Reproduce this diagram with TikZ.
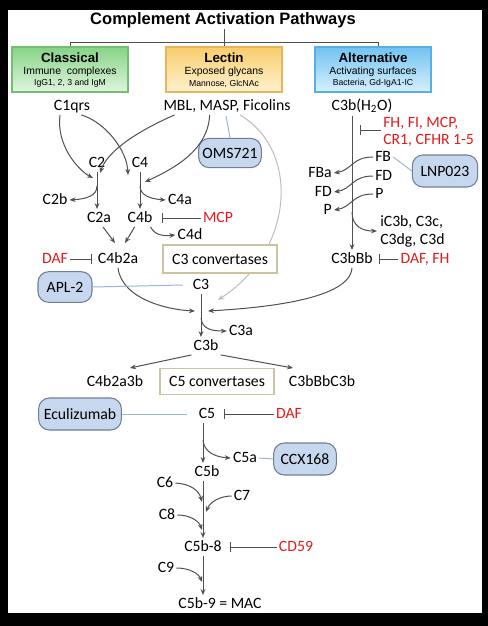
\documentclass[tikz,border=0pt]{standalone}
\usepackage{fontspec}
\setmainfont{Carlito}
\newfontfamily\arialf{Liberation Sans}
\usetikzlibrary{arrows.meta}
\definecolor{linec}{HTML}{505050}
\definecolor{linkc}{HTML}{9BB5D6}
\definecolor{grayc}{HTML}{BDBDBD}
\definecolor{redc}{HTML}{E31A1C}
\definecolor{drugfill}{HTML}{C7D7EE}
\definecolor{drugborder}{HTML}{6F7F96}
\definecolor{convborder}{HTML}{C8C4A2}
\definecolor{clTop}{HTML}{86D386}
\definecolor{clBot}{HTML}{E0F5E0}
\definecolor{clBorder}{HTML}{72BF72}
\definecolor{leTop}{HTML}{F8CD6C}
\definecolor{leBot}{HTML}{FFF2D0}
\definecolor{leBorder}{HTML}{E9B55A}
\definecolor{alTop}{HTML}{72C3F2}
\definecolor{alBot}{HTML}{D8F0FD}
\definecolor{alBorder}{HTML}{5AAEE0}
\tikzset{
  lbl/.style={font=\fontsize{11.8}{14}\selectfont, inner sep=1.5pt, text height=8pt, text depth=2pt},
  redlbl/.style={lbl, text=redc},
  drug/.style={draw=drugborder, fill=drugfill, rounded corners=8pt, line width=0.8pt, inner sep=0pt,
    font=\fontsize{11.8}{14}\selectfont},
  conv/.style={draw=convborder, fill=white, line width=0.9pt, inner sep=0pt, font=\fontsize{11.8}{14}\selectfont},
  hbox/.style={line width=0.8pt, minimum width=87pt, minimum height=33.75pt, inner sep=0pt},
  htitle/.style={font=\arialf\bfseries\fontsize{10}{12}\selectfont, inner sep=0pt},
  hsub/.style={font=\arialf\fontsize{7.8}{9}\selectfont, inner sep=0pt},
  hsmall/.style={font=\arialf\fontsize{6.5}{8}\selectfont, inner sep=0pt},
  arr/.style={draw=linec, line width=0.75pt, -{Stealth[length=4.5pt,width=3.6pt]}},
  inh/.style={draw=linec, line width=0.75pt, -{Bar[width=7.5pt]}},
  link/.style={draw=linkc, line width=0.75pt},
  tree/.style={draw=linec, line width=0.75pt},
  grayarr/.style={draw=grayc, line width=0.75pt, -{Stealth[length=4.5pt,width=3.6pt]}}
}
\begin{document}
\begin{tikzpicture}[x=0.75pt,y=-0.75pt]
\useasboundingbox (0,0) rectangle (488,626);
\fill[black] (0,0) rectangle (488,626);
\fill[white] (8,10) rectangle (482,613);

% title and header boxes
\node[font=\arialf\bfseries\fontsize{12.4}{14}\selectfont, inner sep=1pt] (title) at (223,20) {Complement Activation Pathways};
\node[hbox, draw=clBorder, top color=clTop, bottom color=clBot] (clbox) at (70,69.5) {};
\node[hbox, draw=leBorder, top color=leTop, bottom color=leBot] (lebox) at (224,69.5) {};
\node[hbox, draw=alBorder, top color=alTop, bottom color=alBot] (albox) at (373,69.5) {};
\coordinate (tl) at (70,42);
\coordinate (tm) at (224,42);
\coordinate (tr) at (378,42);
\draw[tree] (clbox.north) -- (tl) -- (tr) -- (tr |- albox.north);
\draw[tree] (tm |- title.south) -- (lebox.north);

\node[htitle] (clt) at (70,58) {Classical};
\node[hsub] (cls) at (70,72) {Immune\ \ complexes};
\node[hsmall] (clm) at (70,83.5) {IgG1, 2, 3 and IgM};
\node[htitle] (let) at (224,58) {Lectin};
\node[hsub] (les) at (224,72) {Exposed glycans};
\node[hsmall] (lem) at (224,83.5) {Mannose,\ GlcNAc};
\node[htitle] (alt) at (373,58) {Alternative};
\node[hsub] (als) at (373,72) {Activating surfaces};
\node[hsmall] (alm) at (373,83.5) {Bacteria, Gd-IgA1-IC};

% initiators
\node[lbl] (c1qrs) at (72,106) {C1qrs};
\node[lbl] (mbl) at (227,106) {MBL, MASP, Ficolins};
\node[lbl] (c3bh2o) at (362,106) {C3b(H\textsubscript{2}O)};

% gray curve from Ficolins to C3 (behind C3 convertases box)
\coordinate (ficA) at (240,115);
\coordinate (c3inG) at (218,300);
\draw[grayarr] (ficA) .. controls (300,150) and (295,250) .. (c3inG);

% classical / lectin nodes
\node[drug, minimum width=47pt, minimum height=22pt] (oms) at (230,153) {OMS721};
\node[lbl] (c2) at (97,163) {C2};
\node[lbl] (c4) at (140,163) {C4};
\node[lbl] (c2b) at (55,200) {C2b};
\node[lbl] (c4a) at (180,200) {C4a};
\node[lbl] (c2a) at (99,218) {C2a};
\node[lbl] (c4b) at (140,218) {C4b};
\node[redlbl] (mcp) at (218,218) {MCP};
\node[lbl] (c4d) at (190,235) {C4d};
\node[lbl] (c4b2a) at (118,259) {C4b2a};
\node[redlbl] (daf1) at (55,259) {DAF};
\node[conv, minimum width=85.5pt, minimum height=21pt] (c3conv) at (220,259) {C3 convertases};
\node[drug, minimum width=40.5pt, minimum height=23pt] (apl) at (65,287) {APL-2};
\node[lbl] (c3) at (201,285) {C3};
\node[lbl] (c3a) at (241,331) {C3a};
\node[lbl] (c3b) at (206,346) {C3b};
\node[lbl] (c4b2a3b) at (115,382) {C4b2a3b};
\node[conv, minimum width=85.5pt, minimum height=20pt] (c5conv) at (217,381.5) {C5 convertases};
\node[lbl] (c3bbbc3b) at (322,382) {C3bBbC3b};
\node[drug, minimum width=62pt, minimum height=24pt] (ecu) at (80,414) {Eculizumab};
\node[lbl] (c5) at (207,414) {C5};
\node[redlbl] (daf2) at (289,414) {DAF};
\node[lbl] (c5a) at (245,458) {C5a};
\node[drug, minimum width=47pt, minimum height=24pt] (ccx) at (305,459) {CCX168};
\node[lbl] (c5b) at (207,472) {C5b};
\node[lbl] (c6) at (165,483) {C6};
\node[lbl] (c7) at (242,496) {C7};
\node[lbl] (c8) at (167,515) {C8};
\node[lbl] (c5b8) at (203,547) {C5b-8};
\node[redlbl] (cd59) at (296,547) {CD59};
\node[lbl] (c9) at (166,568) {C9};
\node[lbl] (mac) at (220,604) {C5b-9 = MAC};

% alternative nodes
\node[redlbl, anchor=west] (fh1) at (381,123) {FH, FI, MCP,};
\node[redlbl, anchor=west] (fh2) at (381,140) {CR1, CFHR 1-5};
\node[lbl, anchor=west] (fb) at (373,157) {FB};
\node[lbl, anchor=west] (fdr) at (373,176) {FD};
\node[lbl, anchor=west] (pr) at (373,194) {P};
\node[lbl, anchor=east] (fba) at (334,173) {FBa};
\node[lbl, anchor=east] (fdl) at (334,192) {FD};
\node[lbl, anchor=east] (pl) at (334,210) {P};
\node[lbl, anchor=west] (ic1) at (378,222) {iC3b, C3c,};
\node[lbl, anchor=west] (ic2) at (378,240) {C3dg, C3d};
\node[lbl] (c3bbb) at (352,259) {C3bBb};
\node[redlbl] (daffh) at (425,259) {DAF, FH};
\node[drug, minimum width=49pt, minimum height=24pt] (lnp) at (445,171) {LNP023};

% coordinates for free ends
\coordinate (c2in1) at (93,178);
\coordinate (c4in1) at (128,175);
\coordinate (c2in2) at (100,173);
\coordinate (c4in2) at (145,182);
\coordinate (c2split) at (97,186);
\coordinate (c4split) at (140,186);
\coordinate (c4b2aL) at (115,243);
\coordinate (c4b2aR) at (125,243);
\coordinate (c3inL) at (195,311);
\coordinate (c3inR) at (208,311);
\coordinate (c3split) at (201,318);
\coordinate (c5L) at (130,368);
\coordinate (c5R) at (293,368);
\coordinate (c5split) at (203,440);
\coordinate (c5bin) at (203,463);
\coordinate (c6in) at (202,502);
\coordinate (c7in) at (206,512);
\coordinate (c8in) at (202,530);
\coordinate (c9in) at (202,582);
\coordinate (altTop) at (352,116);
\coordinate (altC) at (352,212);
\coordinate (icin) at (377,231);
\coordinate (omsA) at (226,116);
\coordinate (mcpbar) at (162,218);
\coordinate (dafbar1) at (92,259);
\coordinate (dafbar2) at (224,414);
\coordinate (cd59bar) at (230,547);
\coordinate (daffhbar) at (379,259);
\coordinate (fhbar) at (360,130);

% classical / lectin connectors
\draw[arr] ([xshift=-9pt]c1qrs.south) .. controls (56,145) and (78,170) .. (c2in1);
\draw[arr] ([xshift=7pt]c1qrs.south) .. controls (105,122) and (127,150) .. (c4in1);
\draw[arr] ([xshift=10pt]mbl.south west) .. controls (140,130) and (108,150) .. (c2in2);
\draw[arr] ([xshift=-13pt]mbl.south) .. controls (208,150) and (175,168) .. (c4in2);
\draw[link] (omsA) -- (oms.north);
\draw[arr] (c2.south) -- (c2.south |- c2a.north);
\draw[arr] (c4.south) -- (c4b.north);
\draw[arr] (c2split) .. controls (97,196) and (86,199) .. (c2b.east);
\draw[arr] (c4split) .. controls (140,196) and (152,199) .. (c4a.west);
\draw[inh] (mcp.west) -- (mcpbar);
\draw[arr] ([xshift=-3pt]c4b.south east) .. controls (155,236) and (165,236) .. (c4d.west);
\draw[arr] ([xshift=3pt]c2a.south) -- (c4b2aL);
\draw[arr] ([xshift=-4pt]c4b.south) -- (c4b2aR);
\draw[inh] (daf1.east) -- (dafbar1);
\draw[arr] (c4b2a.south) .. controls (122,300) and (170,310) .. (c3inL);
\draw[link] (apl.east) -- ([xshift=-6pt]c3.west);
\draw[arr] (c3.south) -- (c3.south |- c3b.north);
\draw[arr] (c3split) .. controls (202,330) and (214,331) .. (c3a.west);
\draw[arr] (c3b.south west) -- (c5L);
\draw[arr] (c3b.south east) -- (c5R);
\draw[link] (ecu.east) -- ([xshift=-7.5pt]c5.west);
\draw[inh] (daf2.west) -- (dafbar2);
\draw[arr] ([xshift=-3pt]c5.south) -- (c5bin);
\draw[arr] (c5split) .. controls (204,452) and (215,457) .. (c5a.west);
\draw[link] (c5a.east) -- (ccx.west);
\draw[arr] (c5b8.north |- c5b.south) -- (c5b8.north);
\draw[arr] (c6.east) .. controls (190,484) and (199,490) .. (c6in);
\draw[arr] (c7.west) .. controls (220,496) and (210,502) .. (c7in);
\draw[arr] (c8.east) .. controls (190,515) and (199,521) .. (c8in);
\draw[inh] (cd59.west) -- (cd59bar);
\draw[arr] (c5b8.south) -- (c5b8.south |- mac.north);
\draw[arr] (c9.east) .. controls (190,568) and (199,574) .. (c9in);

% alternative connectors
\draw[arr] (altTop) -- (c3bbb.north);
\draw[inh] (fh1.west |- fhbar) -- (fhbar);
\draw[arr] (fb.west) .. controls (352,157) and (352,170) .. (fba.east);
\draw[arr] (fdr.west) .. controls (352,176) and (352,189) .. (fdl.east);
\draw[arr] (pr.west) .. controls (352,194) and (352,207) .. (pl.east);
\draw[arr] (altC) .. controls (352,226) and (362,231) .. (icin);
\draw[link] (fb.east) -- (lnp.west);
\draw[inh] (daffh.west) -- (daffhbar);
\draw[arr] (c3bbb.south) .. controls (350,300) and (260,308) .. (c3inR);
\end{tikzpicture}
\end{document}
